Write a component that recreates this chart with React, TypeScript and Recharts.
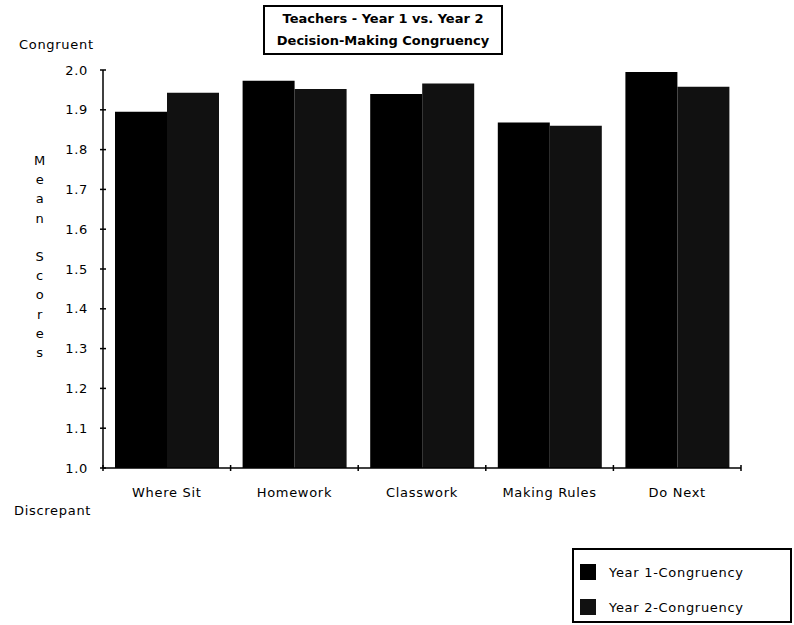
import React from "react";
import { BarChart, Bar, XAxis, YAxis } from "recharts";

const categories = ["Where Sit", "Homework", "Classwork", "Making Rules", "Do Next"];
const year1 = [1.895, 1.973, 1.94, 1.868, 1.995];
const year2 = [1.943, 1.952, 1.966, 1.86, 1.958];
const yTicks = [1.0, 1.1, 1.2, 1.3, 1.4, 1.5, 1.6, 1.7, 1.8, 1.9, 2.0];
const seriesNames = ["Year 1-Congruency", "Year 2-Congruency"];
const seriesColors = ["#000", "#111"];
const titleLines = ["Teachers - Year 1 vs. Year 2", "Decision-Making Congruency"];
const sideLetters = ["M", "e", "a", "n", "", "S", "c", "o", "r", "e", "s"];

const data = categories.map((c, i) => ({ name: c, y1: year1[i], y2: year2[i] }));

const FONT = "'DejaVu Sans', sans-serif";
const FS = 13;
const LS = 0.7;
const X_MARGIN = 20;
const Y_MARGIN = 15;

const XTick = (props: any) => {
  const { x, y, payload, index, visibleTicksCount } = props;
  const off = payload.offset || 0;
  const ay = y - X_MARGIN;
  return (
    <g>
      <line x1={x - off} x2={x - off} y1={ay - 3} y2={ay + 3} stroke="#000" strokeWidth={1.5} />
      {index === visibleTicksCount - 1 && (
        <line x1={x + off} x2={x + off} y1={ay - 3} y2={ay + 3} stroke="#000" strokeWidth={1.5} />
      )}
      <text x={x} y={y} dy="0.71em" textAnchor="middle" fontSize={FS} letterSpacing={LS} fontFamily={FONT} fill="#000">
        {payload.value}
      </text>
    </g>
  );
};

const YTick = (props: any) => {
  const { x, y, payload } = props;
  const ax = x + Y_MARGIN;
  return (
    <g>
      <line x1={ax - 3} x2={ax + 3} y1={y} y2={y} stroke="#000" strokeWidth={1.5} />
      <text x={x} y={y} dy="0.35em" textAnchor="end" fontSize={FS} letterSpacing={LS} fontFamily={FONT} fill="#000">
        {Number(payload.value).toFixed(1)}
      </text>
    </g>
  );
};

export default function App() {
  return (
    <div
      style={{
        position: "absolute",
        left: 0,
        top: 0,
        width: 794,
        height: 625,
        background: "#fff",
        fontFamily: FONT,
        fontSize: FS,
        letterSpacing: LS,
      }}
    >
      <BarChart
        width={794}
        height={625}
        data={data}
        margin={{ top: 70, right: 53, left: 43, bottom: 127 }}
        barCategoryGap={12}
        barGap={0}
      >
        <XAxis
          dataKey="name"
          height={30}
          tickLine={false}
          tickSize={0}
          tickMargin={X_MARGIN}
          axisLine={{ stroke: "#000", strokeWidth: 1.5 }}
          tick={<XTick />}
          interval={0}
        />
        <YAxis
          domain={[1, 2]}
          ticks={yTicks}
          width={60}
          tickLine={false}
          tickSize={0}
          tickMargin={Y_MARGIN}
          allowDataOverflow
          axisLine={{ stroke: "#000", strokeWidth: 1.5 }}
          tick={<YTick />}
          interval={0}
        />
        <Bar dataKey="y1" name={seriesNames[0]} fill={seriesColors[0]} isAnimationActive={false} />
        <Bar dataKey="y2" name={seriesNames[1]} fill={seriesColors[1]} isAnimationActive={false} />
      </BarChart>

      <div
        style={{
          position: "absolute",
          left: 572,
          top: 548,
          width: 220,
          height: 75,
          border: "2px solid #000",
          boxSizing: "border-box",
          padding: "13px 0 0 6px",
          background: "#fff",
        }}
      >
        {seriesNames.map((n, i) => (
          <div key={n} style={{ display: "flex", alignItems: "center", height: 18, marginBottom: 17 * (1 - i) }}>
            <span style={{ width: 16, height: 16, background: seriesColors[i], display: "inline-block", marginRight: 13 }} />
            <span>{n}</span>
          </div>
        ))}
      </div>

      <div
        style={{
          position: "absolute",
          left: 263,
          top: 5,
          width: 240,
          height: 50,
          border: "2px solid #000",
          boxSizing: "border-box",
          textAlign: "center",
          fontWeight: "bold",
          fontSize: 13,
          letterSpacing: 0,
          lineHeight: "22px",
          paddingTop: 1,
          background: "#fff",
        }}
      >
        {titleLines.map((t) => (
          <div key={t}>{t}</div>
        ))}
      </div>

      <div style={{ position: "absolute", left: 19, top: 37 }}>Congruent</div>
      <div style={{ position: "absolute", left: 14, top: 503 }}>Discrepant</div>
      <div style={{ position: "absolute", left: 33, top: 151, width: 14, textAlign: "center" }}>
        {sideLetters.map((l, i) => (
          <div key={i} style={{ height: 19.2, lineHeight: "19.2px" }}>
            {l || "\u00a0"}
          </div>
        ))}
      </div>
    </div>
  );
}
